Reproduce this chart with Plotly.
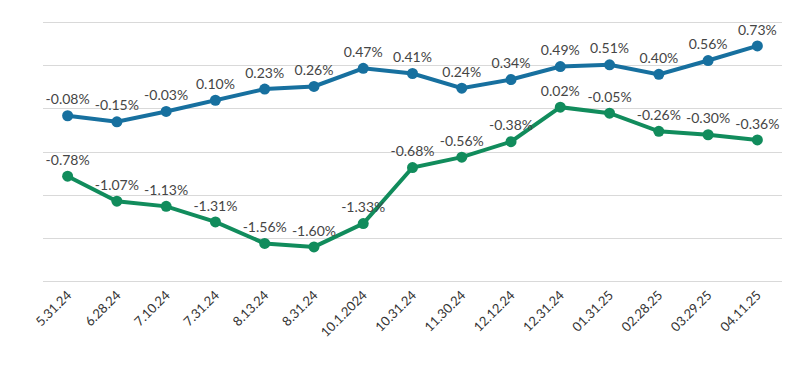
import plotly.graph_objects as go

dates = ["5.31.24", "6.28.24", "7.10.24", "7.31.24", "8.13.24", "8.31.24", "10.1.2024",
         "10.31.24", "11.30.24", "12.12.24", "12.31.24", "01.31.25", "02.28.25", "03.29.25", "04.11.25"]
blue_vals = [-0.08, -0.15, -0.03, 0.10, 0.23, 0.26, 0.47, 0.41, 0.24, 0.34, 0.49, 0.51, 0.40, 0.56, 0.73]
green_vals = [-0.78, -1.07, -1.13, -1.31, -1.56, -1.60, -1.33, -0.68, -0.56, -0.38, 0.02, -0.05, -0.26, -0.30, -0.36]

BLUE = "#17709f"
GREEN = "#118c5c"

fig = go.Figure()
for vals, col in [(blue_vals, BLUE), (green_vals, GREEN)]:
    fig.add_trace(go.Scatter(
        x=dates, y=vals, mode="lines+markers+text",
        line=dict(color=col, width=4),
        marker=dict(color=col, size=11),
        text=[f"{v:.2f}%" for v in vals],
        textposition="top center",
        textfont=dict(family="Lato", size=14, color="#454545"),
        cliponaxis=False,
        showlegend=False,
    ))

fig.update_layout(
    width=800, height=370,
    margin=dict(l=35, r=26, t=12, b=94),
    paper_bgcolor="white", plot_bgcolor="white",
    font=dict(family="Lato", color="#333333"),
)
fig.update_xaxes(
    type="category", range=[-0.5, len(dates) - 0.5],
    tickangle=-45, tickfont=dict(size=13, color="#333333"),
    showgrid=False, showline=False, ticks="", automargin=False,
)
fig.update_yaxes(
    range=[-2.03, 1.03], tick0=0, dtick=0.5, showticklabels=False,
    showgrid=True, gridcolor="#d9d9d9", gridwidth=1,
    zeroline=False, showline=False, ticks="",
)

fig.write_html("out.html")
